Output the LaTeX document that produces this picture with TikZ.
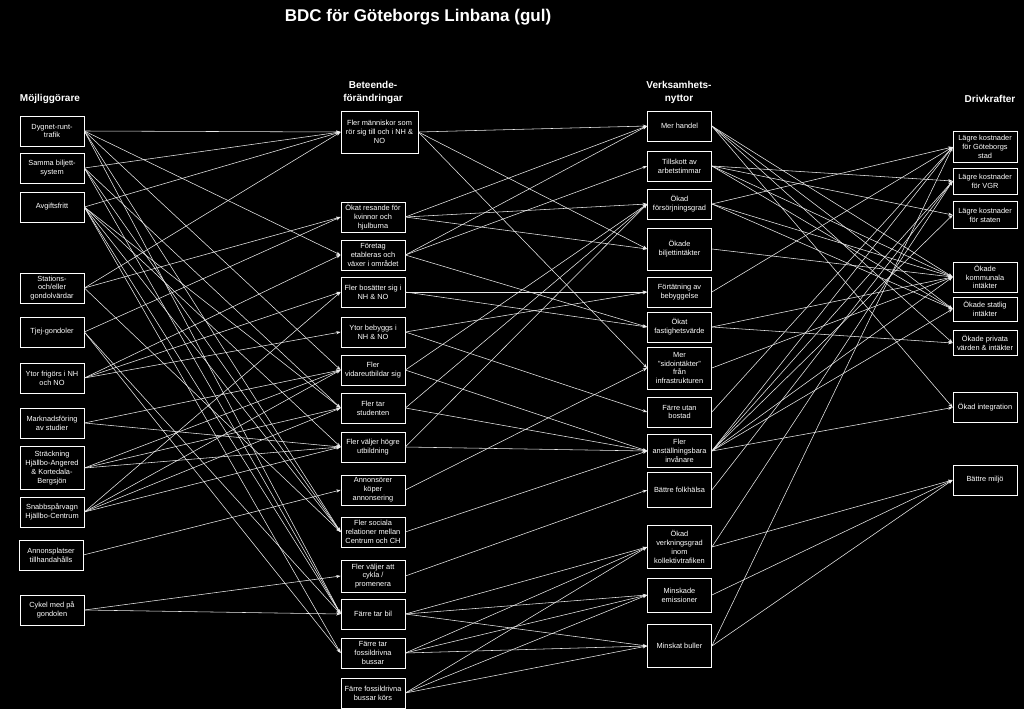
\documentclass[tikz,border=0pt]{standalone}
\usepackage{fontspec}
\setmainfont{Liberation Sans}
\usepackage{tikz}
\usetikzlibrary{arrows.meta}

\tikzset{
  ruta/.style={draw=white, line width=0.7pt, text=white, align=center,
    minimum width=64pt, minimum height=30pt, inner sep=0.5pt,
    font=\fontsize{7.4}{8.8}\selectfont},
  rubrik/.style={text=white, align=center, font=\bfseries\fontsize{10}{13}\selectfont},
  pil/.style={white!92!black, line width=0.55pt, -{Stealth[length=4.5pt,width=3.2pt]}}
}

\begin{document}
\begin{tikzpicture}[x=1pt,y=-1pt]

\fill[black] (0,0) rectangle (1024,709);

\node[text=white, font=\bfseries\fontsize{17}{20}\selectfont] (titel) at (418,17) {BDC för Göteborgs Linbana (gul)};

% rubriker
\node[rubrik] (hm) at (50,99) {Möjliggörare};
\node[rubrik] (hb) at (373,92.5) {Beteende-\\förändringar};
\node[rubrik] (hv) at (679,92.5) {Verksamhets-\\nyttor};
\node[rubrik] (hd) at (990,99) {Drivkrafter};

% möjliggörare
\node[ruta] (m1) at (52,131) {Dygnet-runt-\\trafik};
\node[ruta] (m2) at (52,168) {Samma biljett-\\system};
\node[ruta] (m3) at (52,207) {Avgiftsfritt};
\node[ruta] (m4) at (52,288) {Stations-\\och/eller\\gondolvärdar};
\node[ruta] (m5) at (52,332) {Tjej-gondoler};
\node[ruta] (m6) at (52,378) {Ytor frigörs i NH\\och NO};
\node[ruta] (m7) at (52,423) {Marknadsföring\\av studier};
\node[ruta, minimum height=43pt] (m8) at (52,468) {Sträckning\\Hjällbo-Angered\\\& Kortedala-\\Bergsjön};
\node[ruta] (m9) at (52,512) {Snabbspårvagn\\Hjällbo-Centrum};
\node[ruta] (m10) at (51,555) {Annonsplatser\\tillhandahålls};
\node[ruta] (m11) at (52,610) {Cykel med på\\gondolen};

% beteendeförändringar
\node[ruta, minimum width=77pt, minimum height=42pt] (b1) at (379.5,132) {Fler människor som\\rör sig till och i NH \&\\NO};
\node[ruta] (b2) at (373,217) {Ökat resande för\\kvinnor och\\hjulburna};
\node[ruta] (b3) at (373,255) {Företag\\etableras och\\växer i området};
\node[ruta] (b4) at (373,292) {Fler bosätter sig i\\NH \& NO};
\node[ruta] (b5) at (373,332) {Ytor bebyggs i\\NH \& NO};
\node[ruta] (b6) at (373,370) {Fler\\vidareutbildar sig};
\node[ruta] (b7) at (373,408) {Fler tar\\studenten};
\node[ruta] (b8) at (373,447) {Fler väljer högre\\utbildning};
\node[ruta] (b9) at (373,490) {Annonsörer\\köper\\annonsering};
\node[ruta] (b10) at (373,532) {Fler sociala\\relationer mellan\\Centrum och CH};
\node[ruta, minimum height=32pt] (b11) at (373,576) {Fler väljer att\\cykla /\\promenera};
\node[ruta] (b12) at (373,614) {Färre tar bil};
\node[ruta] (b13) at (373,653) {Färre tar\\fossildrivna\\bussar};
\node[ruta] (b14) at (373,693) {Färre fossildrivna\\bussar körs};

% verksamhetsnyttor
\node[ruta] (v1) at (679.5,126) {Mer handel};
\node[ruta] (v2) at (679.5,166) {Tillskott av\\arbetstimmar};
\node[ruta] (v3) at (679.5,204) {Ökad\\försörjningsgrad};
\node[ruta, minimum height=42pt] (v4) at (679.5,249) {Ökade\\biljettintäkter};
\node[ruta] (v5) at (679.5,292) {Förtätning av\\bebyggelse};
\node[ruta] (v6) at (679.5,327) {Ökat\\fastighetsvärde};
\node[ruta, minimum height=42pt] (v7) at (679.5,368) {Mer\\”sidointäkter”\\från\\infrastrukturen};
\node[ruta] (v8) at (679.5,412) {Färre utan\\bostad};
\node[ruta, minimum height=33pt] (v9) at (679.5,451) {Fler\\anställningsbara\\invånare};
\node[ruta, minimum height=35pt] (v10) at (679.5,490) {Bättre folkhälsa};
\node[ruta, minimum height=43pt] (v11) at (679.5,547) {Ökad\\verkningsgrad\\inom\\kollektivtrafiken};
\node[ruta, minimum height=34pt] (v12) at (679.5,595) {Minskade\\emissioner};
\node[ruta, minimum height=43pt] (v13) at (679.5,646) {Minskat buller};

% drivkrafter
\node[ruta, minimum height=31pt] (d1) at (985,147) {Lägre kostnader\\för Göteborgs\\stad};
\node[ruta, minimum height=26pt] (d2) at (985,181) {Lägre kostnader\\för VGR};
\node[ruta, minimum height=27pt] (d3) at (985,215) {Lägre kostnader\\för staten};
\node[ruta] (d4) at (985,277) {Ökade\\kommunala\\intäkter};
\node[ruta, minimum height=24pt] (d5) at (985,309) {Ökade statlig\\intäkter};
\node[ruta, minimum height=25pt] (d6) at (985,343) {Ökade privata\\värden \& intäkter};
\node[ruta] (d7) at (985,407.5) {Ökad integration};
\node[ruta] (d8) at (985,480) {Bättre miljö};

% pilar
\foreach \s/\t in {m1/b1, m1/b3, m1/b6, m1/b10, m1/b12,
    m2/b1, m2/b7, m2/b10, m2/b12,
    m3/b1, m3/b7, m3/b8, m3/b10, m3/b12, m3/b13,
    m4/b1, m4/b2, m4/b10,
    m5/b2, m5/b12, m5/b13,
    m6/b3, m6/b4, m6/b5,
    m7/b6, m7/b8,
    m8/b6, m8/b7, m8/b8,
    m9/b4, m9/b6, m9/b7, m9/b8,
    m10/b9, m11/b11, m11/b12}
  \draw[pil] (\s.east) -- (\t.west);

\foreach \s/\t in {b1/v1, b1/v4, b1/v7,
    b2/v1, b2/v3, b2/v4,
    b3/v1, b3/v2, b3/v6,
    b4/v5, b4/v6,
    b5/v5, b5/v8,
    b6/v3, b6/v9, b7/v3, b7/v9, b8/v3, b8/v9,
    b9/v7, b10/v9, b11/v10,
    b12/v11, b12/v12, b12/v13,
    b13/v11, b13/v12, b13/v13,
    b14/v11, b14/v12, b14/v13}
  \draw[pil] (\s.east) -- (\t.west);

\foreach \s/\t in {v1/d4, v1/d5, v1/d6, v1/d7,
    v2/d2, v2/d3, v2/d4, v2/d5,
    v3/d1, v3/d4, v3/d5,
    v4/d4, v5/d1, v6/d4, v6/d6, v7/d4, v8/d1,
    v9/d1, v9/d2, v9/d3, v9/d4, v9/d5, v9/d7,
    v10/d2, v11/d2, v11/d8, v12/d8, v13/d1, v13/d8}
  \draw[pil] (\s.east) -- (\t.west);

\end{tikzpicture}
\end{document}
